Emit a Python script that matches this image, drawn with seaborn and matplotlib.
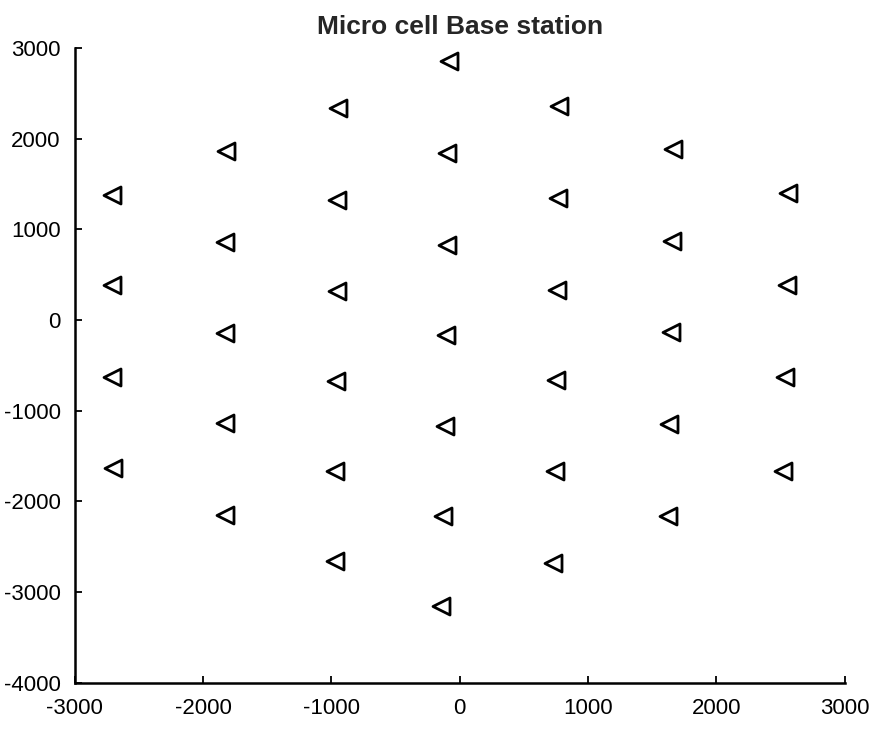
import matplotlib
matplotlib.use("Agg")
import matplotlib.pyplot as plt
import seaborn as sns
import pandas as pd

title = "Micro cell Base station"
x_ticks = [-3000, -2000, -1000, 0, 1000, 2000, 3000]
y_ticks = [-4000, -3000, -2000, -1000, 0, 1000, 2000, 3000]

# Base station positions (column by column, top to bottom)
x_coords = [
    -2709, -2709, -2709, -2701,
    -1821, -1825, -1825, -1829, -1829,
    -948, -956, -956, -963, -971, -971,
    -83, -98, -98, -106, -113, -129, -145,
    776, 768, 760, 752, 744, 728,
    1663, 1655, 1647, 1632, 1624,
    2560, 2552, 2536, 2521,
]
y_coords = [
    1380, 387, -628, -1632,
    1865, 862, -142, -1135, -2150,
    2339, 1325, 321, -672, -1665, -2658,
    2858, 1843, 828, -164, -1168, -2161, -3154,
    2361, 1347, 332, -661, -1665, -2680,
    1888, 873, -131, -1146, -2161,
    1402, 387, -628, -1665,
]

df = pd.DataFrame({"x": x_coords, "y": y_coords})

sns.set_style("ticks")
plt.rcParams["font.family"] = ["Liberation Sans", "DejaVu Sans"]

fig = plt.figure(figsize=(8.8, 7.29), dpi=100)
ax = fig.add_axes([0.0849, 0.0635, 0.8748, 0.8705])

sns.scatterplot(data=df, x="x", y="y", marker="<", s=150,
                facecolor="white", edgecolor="black", linewidth=2.0, ax=ax)

ax.set_xlim(-3000, 3000)
ax.set_ylim(-4000, 3000)
ax.set_xticks(x_ticks)
ax.set_yticks(y_ticks)
ax.set_xticklabels([str(v) for v in x_ticks], fontsize=16)
ax.set_yticklabels([str(v) for v in y_ticks], fontsize=16)
ax.tick_params(direction="in", length=5, width=1.3, colors="black")
ax.tick_params(axis="x", pad=11)
ax.tick_params(axis="y", pad=10)
ax.set_xlabel("")
ax.set_ylabel("")
for s in ["top", "right"]:
    ax.spines[s].set_visible(False)
for s in ["left", "bottom"]:
    ax.spines[s].set_linewidth(1.8)
    ax.spines[s].set_color("black")
ax.set_title(title, fontsize=19, fontweight="bold", pad=10)

fig.savefig("out.png", dpi=100, facecolor="white")
